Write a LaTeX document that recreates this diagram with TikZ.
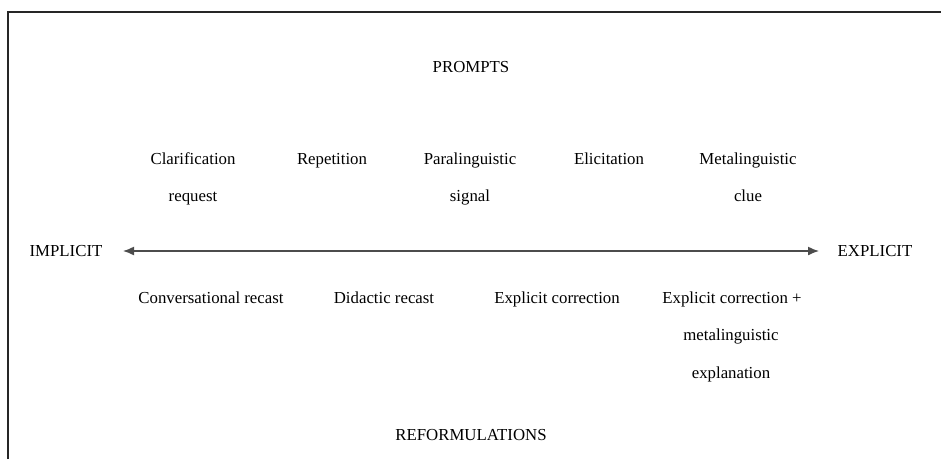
\documentclass[tikz,border=0pt]{standalone}
\usepackage{fontspec}
\setmainfont{Liberation Serif}
\usetikzlibrary{arrows.meta}
\tikzset{
  lbl/.style={inner sep=0pt, font=\fontsize{16.8}{20}\selectfont, text=black, anchor=base},
  frameline/.style={line width=2.6pt, draw=black!85},
  axis/.style={line width=1.4pt, draw=black!70, {Latex[length=11pt,width=9pt]}-{Latex[length=11pt,width=9pt]}}
}
\begin{document}
\begin{tikzpicture}[x=1pt,y=-1pt]
\useasboundingbox (0,0) rectangle (941,459);
\coordinate (fbl) at (8,459);
\coordinate (ftl) at (8,12);
\coordinate (ftr) at (941,12);
\draw[frameline] (fbl) -- (ftl) -- (ftr);
\node[lbl] (prompts) at (471,72) {PROMPTS};
\node[lbl] (clar) at (193,164) {Clarification};
\node[lbl] (req) at (193,201) {request};
\node[lbl] (rep) at (332,164) {Repetition};
\node[lbl] (para) at (470,164) {Paralinguistic};
\node[lbl] (sig) at (470,201) {signal};
\node[lbl] (elic) at (609,164) {Elicitation};
\node[lbl] (meta) at (748,164) {Metalinguistic};
\node[lbl] (clue) at (748,201) {clue};
\node[lbl] (impl) at (66,256) {IMPLICIT};
\node[lbl] (expl) at (875,256) {EXPLICIT};
\coordinate (al) at (123,251);
\coordinate (ar) at (819,251);
\draw[axis] (al) -- (ar);
\node[lbl] (conv) at (211,303) {Conversational recast};
\node[lbl] (did) at (384,303) {Didactic recast};
\node[lbl] (ec) at (557,303) {Explicit correction};
\node[lbl] (ecp) at (732,303) {Explicit correction +};
\node[lbl] (mex) at (731,340) {metalinguistic};
\node[lbl] (exn) at (731,378) {explanation};
\node[lbl] (ref) at (471,440) {REFORMULATIONS};
\end{tikzpicture}
\end{document}
